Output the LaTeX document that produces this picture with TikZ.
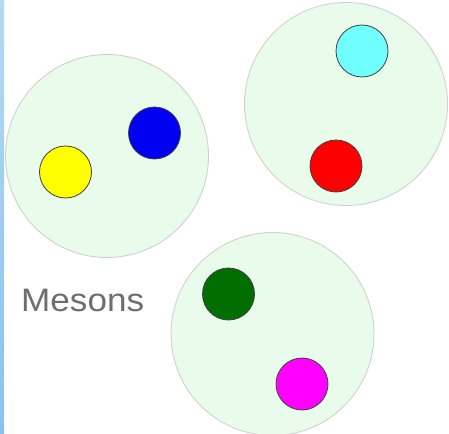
\documentclass[tikz,border=0pt]{standalone}
\usepackage{fontspec}
\setmainfont{Liberation Sans}
\begin{document}
\begin{tikzpicture}[x=1pt,y=-1pt,
  hadron/.style={circle,draw=black!18,line width=0.9pt,fill=bgreen,minimum size=203pt,inner sep=0pt},
  quark/.style={circle,draw=black!75,line width=0.8pt,minimum size=52pt,inner sep=0pt},
  lbl/.style={text=textgray,font=\fontsize{32.5}{36}\selectfont,inner sep=0pt,anchor=base west}]
\definecolor{bgreen}{HTML}{E9FBEB}
\definecolor{textgray}{HTML}{6E6E6E}
\definecolor{stripTop}{HTML}{B3DAF3}
\definecolor{stripBot}{HTML}{8DC1EC}
\definecolor{qyellow}{HTML}{FFFF00}
\definecolor{qblue}{HTML}{0000F2}
\definecolor{qcyan}{HTML}{70FFFF}
\definecolor{qred}{HTML}{FF0000}
\definecolor{qgreen}{HTML}{006F00}
\definecolor{qmagenta}{HTML}{FF00FF}
\useasboundingbox (0,0) rectangle (449,433);
\begin{scope}
\clip (0,0) rectangle (449,433);
\shade[top color=stripTop,bottom color=stripBot] (0,0) rectangle (4,433);
\node[hadron] (h1) at (107,156) {};
\node[hadron] (h2) at (346,104) {};
\node[hadron] (h3) at (272.5,334) {};
\node[quark,fill=qyellow] (qy) at (65.5,172) {};
\node[quark,fill=qblue] (qb) at (154.5,133) {};
\node[quark,fill=qcyan] (qc) at (362,51) {};
\node[quark,fill=qred] (qr) at (336,166) {};
\node[quark,fill=qgreen] (qg) at (228.5,294) {};
\node[quark,fill=qmagenta] (qm) at (302,384) {};
\node[lbl] (mes) at (21,311) {\scalebox{1.08}[1]{Mesons}};
\end{scope}
\end{tikzpicture}
\end{document}
